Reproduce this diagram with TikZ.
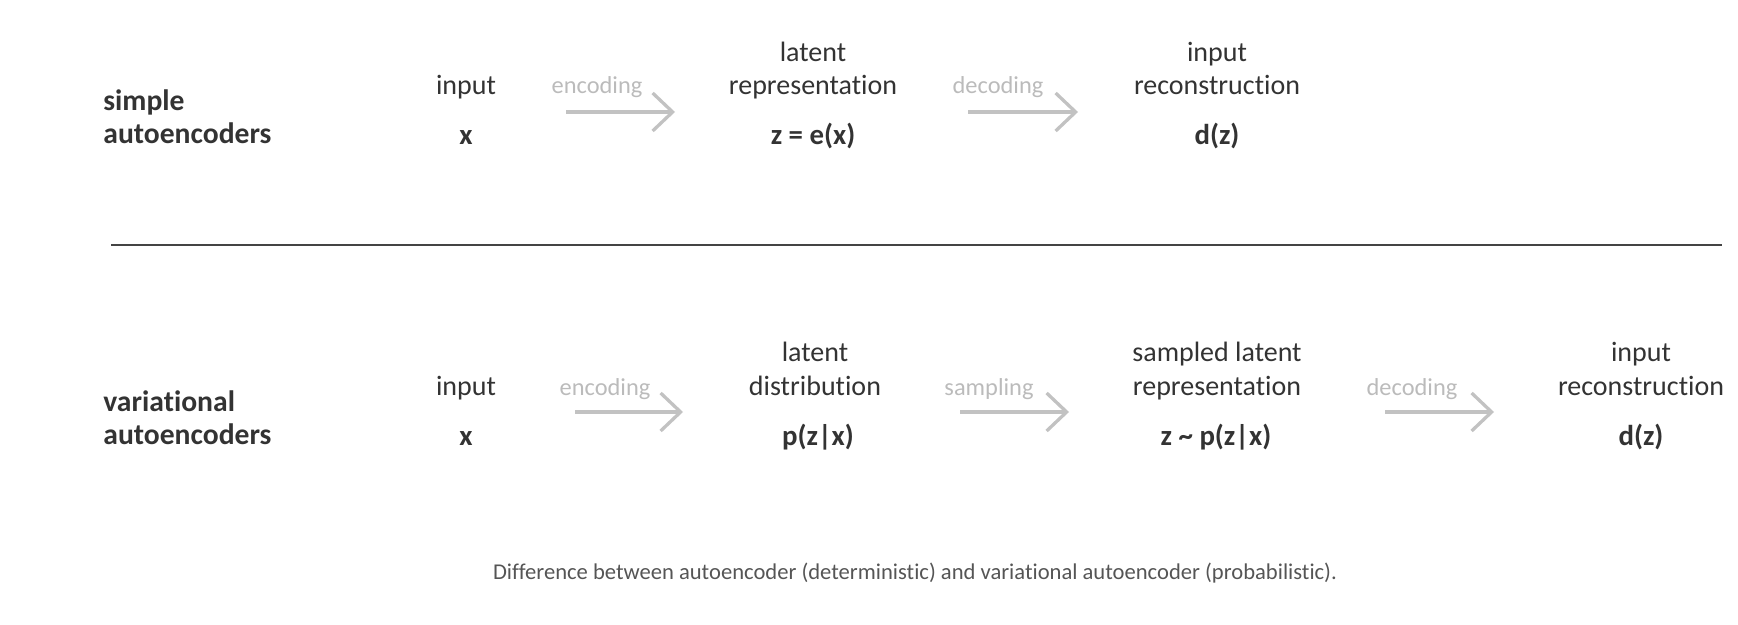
\documentclass[tikz,border=0pt]{standalone}
\usepackage{fontspec}
\setmainfont{Carlito}[RawFeature={-liga;-clig;-dlig}]
\usetikzlibrary{arrows.meta}
\definecolor{txt}{HTML}{333333}
\definecolor{lbl}{HTML}{BBBBBB}
\definecolor{arr}{HTML}{C2C2C2}
\definecolor{capc}{HTML}{555555}
\definecolor{rulec}{HTML}{444444}
\begin{document}
\begin{tikzpicture}[x=0.5pt,y=-0.5pt,
  every node/.style={inner sep=0pt,anchor=base},
  term/.style={font=\fontsize{14}{16}\selectfont,text=txt},
  formula/.style={font=\fontsize{14.4}{16}\selectfont\bfseries,text=txt},
  rowlabel/.style={font=\fontsize{14.8}{16}\selectfont\bfseries,text=txt,anchor=base west},
  steplabel/.style={font=\fontsize{12.2}{14}\selectfont,text=lbl},
  flow/.style={draw=arr,line width=1.65pt,-{Straight Barb[length=10pt,width=19pt,line width=1.65pt]}},
  captext/.style={font=\fontsize{11.3}{13}\selectfont,text=capc}
]
\useasboundingbox (0,0) rectangle (1738,625);

% ---------- simple autoencoders ----------
\node[rowlabel] (s1) at (103,111) {simple};
\node[rowlabel] (s2) at (103,144) {autoencoders};

\node[term] (tin1) at (466,95) {input};
\node[formula] (tx1) at (466,145) {x};

\node[steplabel] (tenc) at (597,94) {encoding};
\coordinate (ta1s) at (566,112);
\coordinate (ta1e) at (675,112);
\draw[flow] (ta1s) -- (ta1e);

\node[term] (tlat1) at (813,62) {latent};
\node[term] (tlat2) at (813,95) {representation};
\node[formula] (tz) at (813,145) {z = e(x)};

\node[steplabel] (tdec) at (998,94) {decoding};
\coordinate (ta2s) at (968,112);
\coordinate (ta2e) at (1078,112);
\draw[flow] (ta2s) -- (ta2e);

\node[term] (trec1) at (1217,62) {input};
\node[term] (trec2) at (1217,95) {reconstruction};
\node[formula] (td) at (1217,145) {d(z)};

% ---------- separator ----------
\coordinate (r1) at (111,245);
\coordinate (r2) at (1722,245);
\draw[rulec,line width=1pt] (r1) -- (r2);

% ---------- variational autoencoders ----------
\node[rowlabel] (v1) at (103,411) {variational};
\node[rowlabel] (v2) at (103,444) {autoencoders};

\node[term] (bin1) at (466,395) {input};
\node[formula] (bx1) at (466,445) {x};

\node[steplabel] (benc) at (605,395) {encoding};
\coordinate (ba1s) at (575,412);
\coordinate (ba1e) at (683,412);
\draw[flow] (ba1s) -- (ba1e);

\node[term] (blat1) at (815,362) {latent};
\node[term] (blat2) at (815,395) {distribution};
\node[formula] (bp) at (818,445) {p(z|x)};

\node[steplabel] (bsam) at (989,395) {sampling};
\coordinate (ba2s) at (960,412);
\coordinate (ba2e) at (1069,412);
\draw[flow] (ba2s) -- (ba2e);

\node[term] (bsl1) at (1217,362) {sampled latent};
\node[term] (bsl2) at (1217,395) {representation};
\node[formula] (bz) at (1216,445) {z \textasciitilde{} p(z|x)};

\node[steplabel] (bdec) at (1412,395) {decoding};
\coordinate (ba3s) at (1385,412);
\coordinate (ba3e) at (1494,412);
\draw[flow] (ba3s) -- (ba3e);

\node[term] (brec1) at (1641,362) {input};
\node[term] (brec2) at (1641,395) {reconstruction};
\node[formula] (bd) at (1641,445) {d(z)};

% ---------- caption ----------
\node[captext] (cap) at (915,579) {Difference between autoencoder (deterministic) and variational autoencoder (probabilistic).};
\end{tikzpicture}
\end{document}
